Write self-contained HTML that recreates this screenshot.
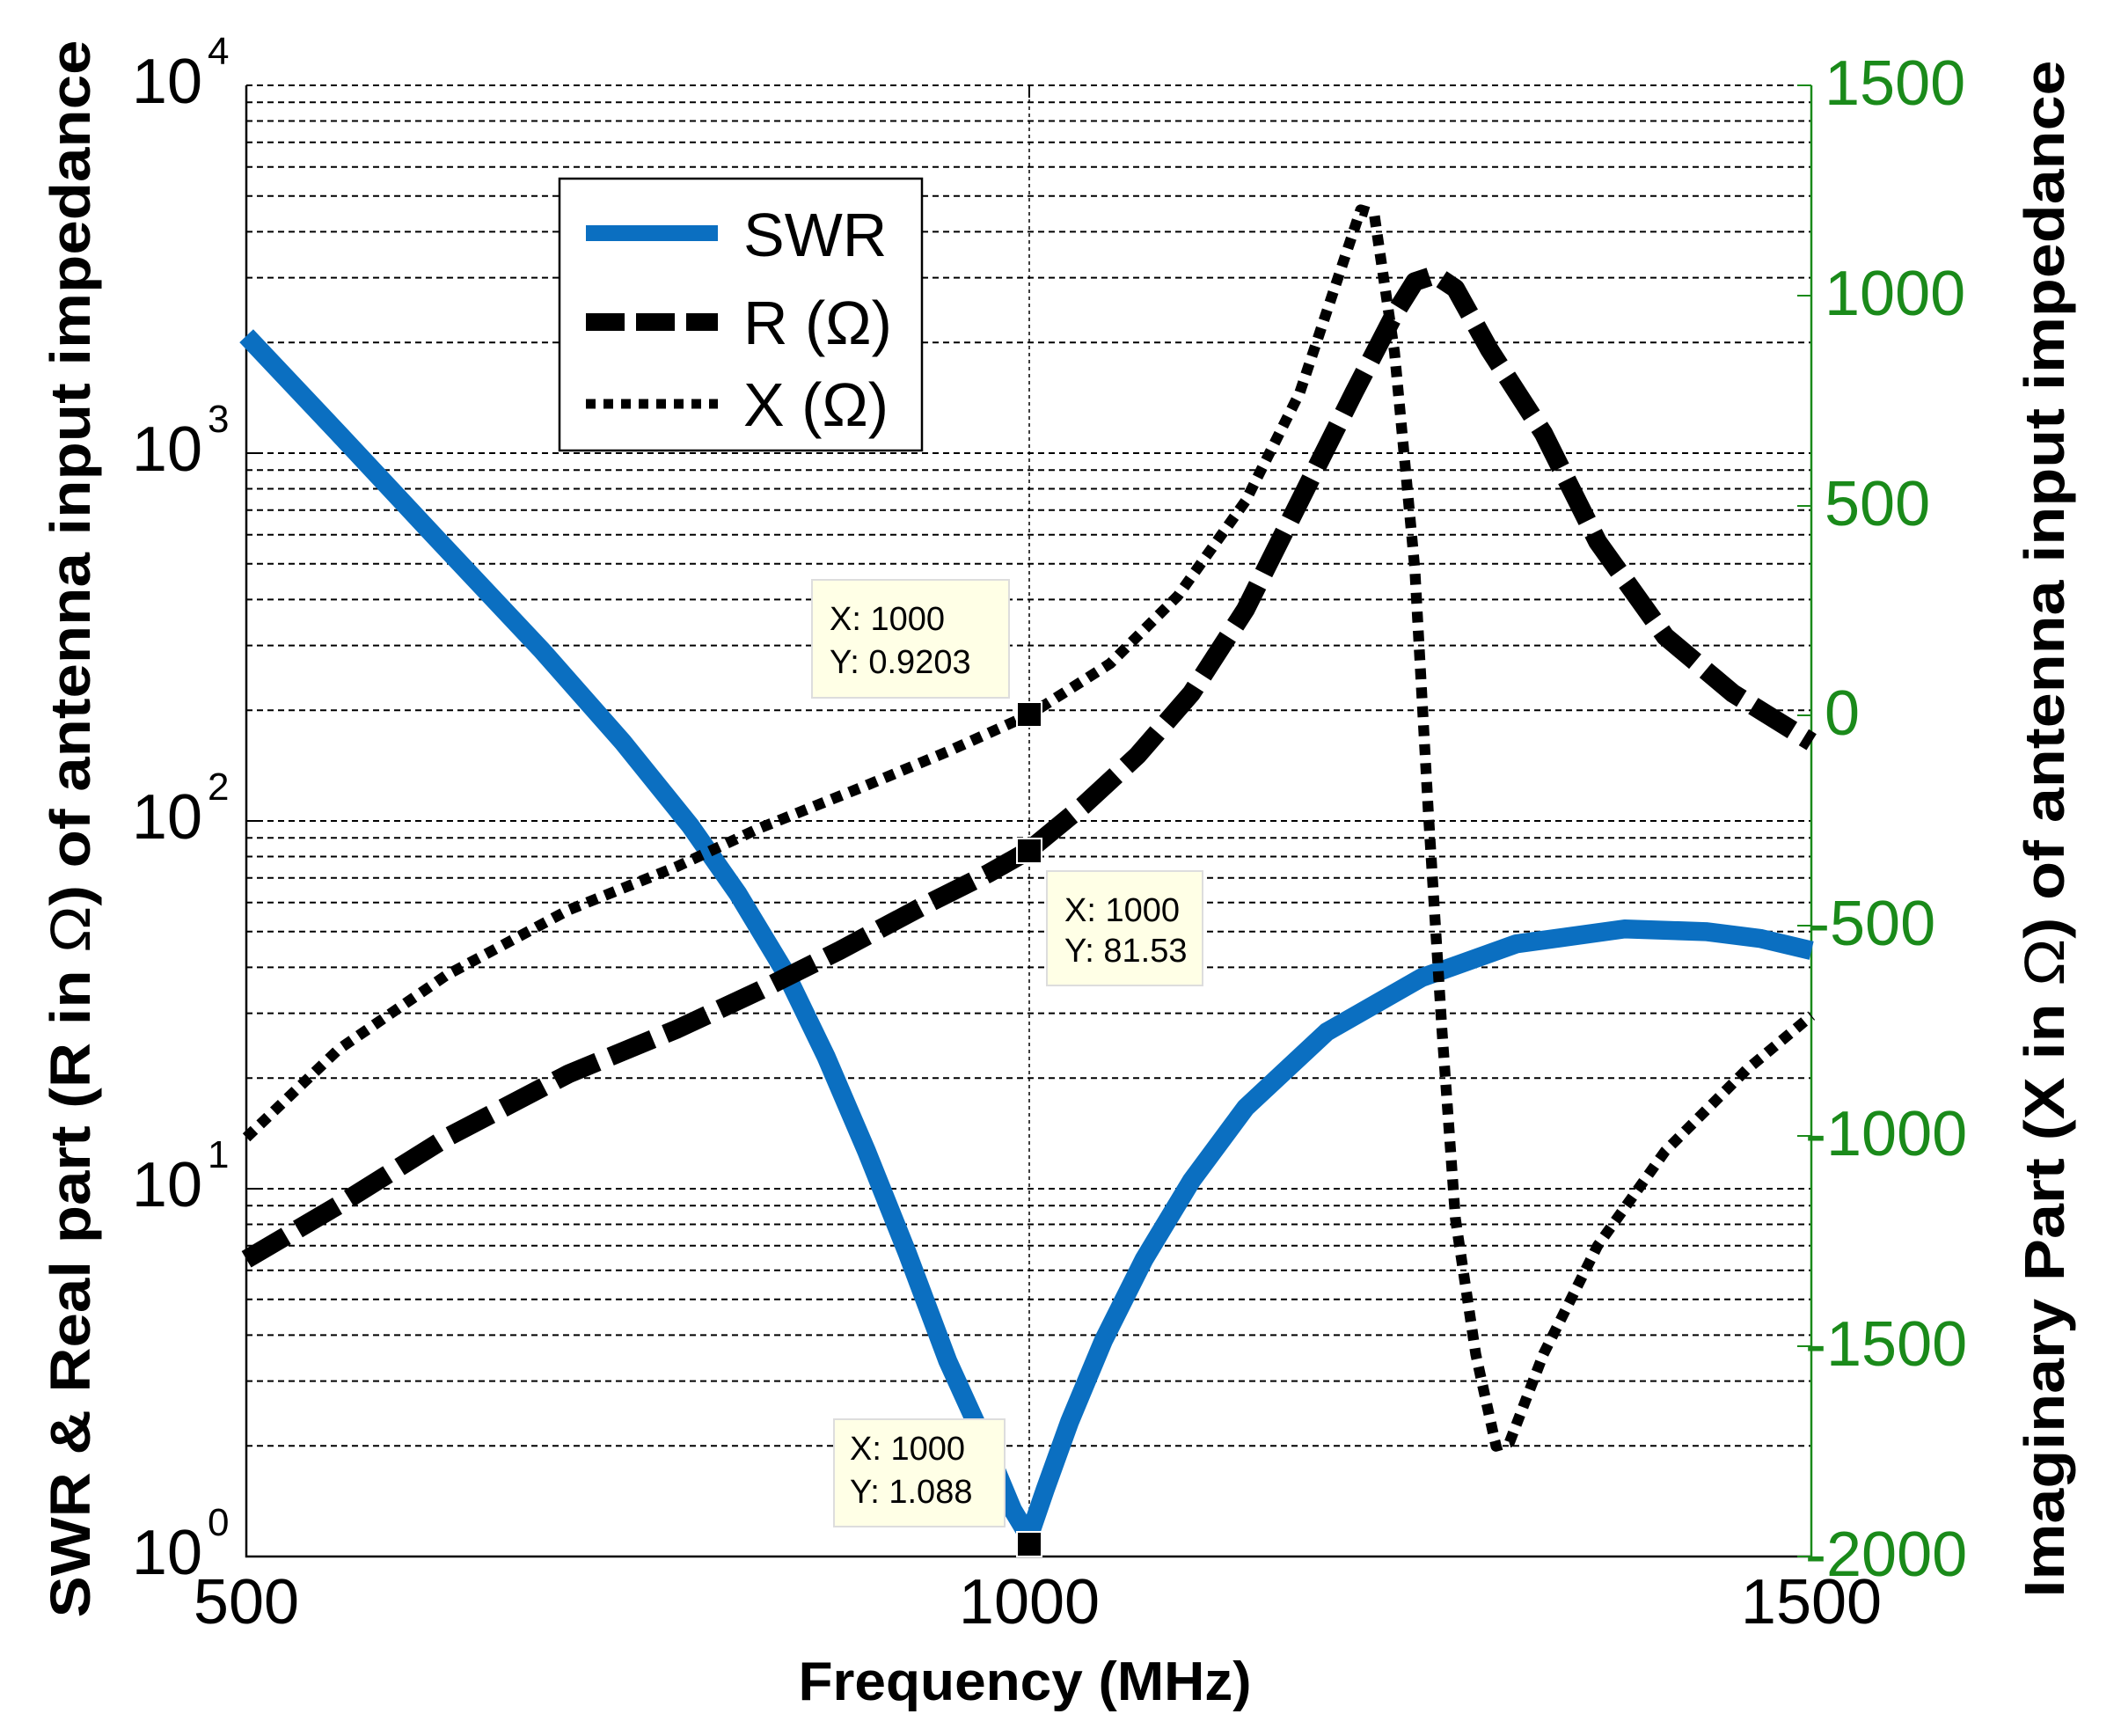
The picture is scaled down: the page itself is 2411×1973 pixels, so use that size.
<!DOCTYPE html>
<html><head><meta charset="utf-8"><style>body{margin:0;background:#fff}svg{display:block}</style></head><body>
<svg width="2411" height="1973" viewBox="0 0 2411 1973" xmlns="http://www.w3.org/2000/svg" font-family="Liberation Sans, sans-serif">
<rect width="2411" height="1973" fill="#fff"/>
<g stroke="#000" stroke-width="2" stroke-dasharray="7,5" fill="none">
<path d="M280 97H2059M280 116.2H2059M280 137.5H2059M280 161.8H2059M280 189.8H2059M280 222.8H2059M280 263.4H2059M280 315.6H2059M280 389.2H2059M280 515H2059M280 534.2H2059M280 555.5H2059M280 579.8H2059M280 607.8H2059M280 640.8H2059M280 681.4H2059M280 733.6H2059M280 807.2H2059M280 933H2059M280 952.2H2059M280 973.5H2059M280 997.8H2059M280 1025.8H2059M280 1058.8H2059M280 1099.4H2059M280 1151.6H2059M280 1225.2H2059M280 1351H2059M280 1370.2H2059M280 1391.5H2059M280 1415.8H2059M280 1443.8H2059M280 1476.8H2059M280 1517.4H2059M280 1569.6H2059M280 1643.2H2059"/>
<path d="M1170 97V1769" stroke-width="1.5" stroke-dasharray="4,4"/>
</g>
<path d="M280 97V1769H2059" stroke="#000" stroke-width="2.5" fill="none"/>
<path d="M2059 97V1769" stroke="#1a8a1a" stroke-width="2.5" fill="none"/>
<g stroke="#000" stroke-width="2"><path d="M280 1351h14M280 933h14M280 515h14M1170 1769v-14M1170 97v14"/></g>
<g stroke="#1a8a1a" stroke-width="2"><path d="M2059 97h-16M2059 336h-16M2059 575h-16M2059 813h-16M2059 1052h-16M2059 1291h-16M2059 1530h-16M2059 1769h-16"/></g>
<g font-size="72" text-anchor="end" fill="#000">
<text x="230" y="117">10</text><text x="230" y="535">10</text><text x="230" y="953">10</text><text x="230" y="1371">10</text><text x="230" y="1789">10</text>
</g>
<g font-size="44" fill="#000">
<text x="236" y="73">4</text><text x="236" y="491">3</text><text x="236" y="909">2</text><text x="236" y="1327">1</text><text x="236" y="1745">0</text>
</g>
<g font-size="72" text-anchor="middle" fill="#000">
<text x="280" y="1845">500</text><text x="1170" y="1845">1000</text><text x="2059" y="1845">1500</text>
</g>
<g font-size="72" fill="#1a8a1a">
<text x="2074" y="119">1500</text><text x="2074" y="358">1000</text><text x="2074" y="597">500</text><text x="2074" y="835">0</text>
<text x="2056" y="1074">-500</text><text x="2052" y="1313">-1000</text><text x="2052" y="1552">-1500</text><text x="2052" y="1791">-2000</text>
</g>
<text x="1165" y="1932" font-size="62" font-weight="bold" text-anchor="middle" textLength="515" lengthAdjust="spacingAndGlyphs">Frequency (MHz)</text>
<text transform="translate(102,942) rotate(-90)" font-size="64" font-weight="bold" text-anchor="middle" textLength="1793" lengthAdjust="spacingAndGlyphs">SWR &amp; Real part (R in <tspan font-weight="normal">Ω</tspan>) of antenna input impedance</text>
<text transform="translate(2346,942) rotate(-90)" font-size="64" font-weight="bold" text-anchor="middle" textLength="1747" lengthAdjust="spacingAndGlyphs">Imaginary Part (X in <tspan font-weight="normal">Ω</tspan>) of antenna input impedance</text>
<g transform="scale(1.539)" fill="none" stroke-linejoin="round">
<polyline stroke="#0b6fc1" stroke-width="14" points="182,248 250,320 320,395 400,480 460,548 510,610 545,660 580,718 610,780 640,850 670,925 700,1005 725,1060 748,1115 760,1135 772,1100 790,1050 815,990 845,930 880,872 920,818 980,762 1050,722 1120,697 1200,686 1260,688 1300,693 1338,702"/>
<polyline stroke="#000" stroke-width="14" stroke-dasharray="34,10" points="182,930 250,890 330,840 420,793 500,760 560,732 620,702 680,670 730,645 760,628 800,595 840,558 880,512 920,450 960,370 1000,290 1030,232 1045,208 1060,203 1075,213 1100,258 1140,320 1180,400 1230,470 1280,512 1338,548"/>
<polyline stroke="#000" stroke-width="8" stroke-dasharray="8,6" points="182,840 250,775 330,720 420,672 500,640 560,612 640,580 700,555 760,528 820,490 870,440 920,370 960,290 990,200 1005,155 1015,158 1030,260 1045,420 1055,600 1065,760 1075,900 1090,1000 1105,1068 1115,1065 1140,1000 1180,920 1230,850 1290,790 1338,750"/>
</g>
<g fill="#000" stroke="#fff" stroke-width="2">
<rect x="1156" y="798" width="28" height="28"/><rect x="1156" y="953" width="28" height="28"/><rect x="1156" y="1741" width="28" height="28"/>
</g>
<g font-size="38" fill="#000">
<rect x="923" y="659" width="224" height="134" fill="#ffffe6" stroke="#ddd" stroke-width="2"/>
<text x="943" y="716">X: 1000</text><text x="943" y="765">Y: 0.9203</text>
<rect x="1190" y="990" width="177" height="130" fill="#ffffe6" stroke="#ddd" stroke-width="2"/>
<text x="1210" y="1047">X: 1000</text><text x="1210" y="1093">Y: 81.53</text>
<rect x="948" y="1613" width="194" height="122" fill="#ffffe6" stroke="#ddd" stroke-width="2"/>
<text x="966" y="1659">X: 1000</text><text x="966" y="1708">Y: 1.088</text>
</g>
<rect x="636" y="203" width="412" height="309" fill="#fff" stroke="#000" stroke-width="2.5"/>
<path d="M666 265H816" stroke="#0b6fc1" stroke-width="18"/>
<path d="M666 366H816" stroke="#000" stroke-width="20" stroke-dasharray="44,13"/>
<path d="M666 459H816" stroke="#000" stroke-width="11" stroke-dasharray="11,9"/>
<g font-size="70" fill="#000">
<text x="845" y="291">SWR</text><text x="845" y="391">R (Ω)</text><text x="845" y="484">X (Ω)</text>
</g>
</svg>
</body></html>
